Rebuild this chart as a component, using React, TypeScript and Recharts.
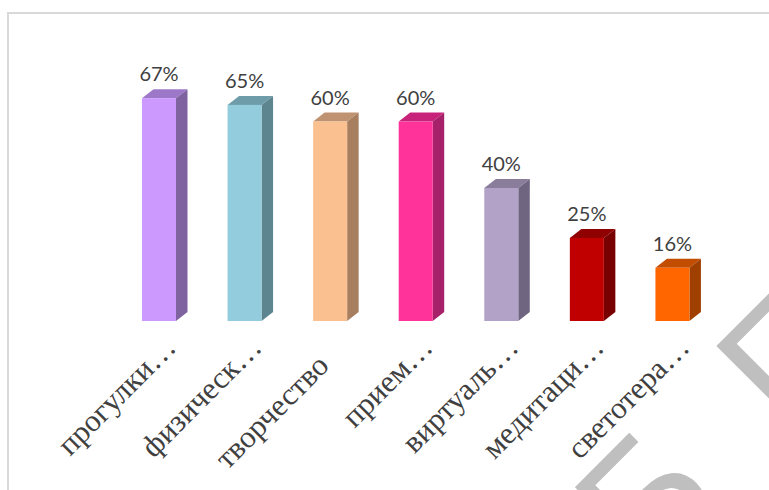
import { BarChart, Bar, XAxis, YAxis, LabelList } from "recharts";

// labels as shown in the picture (Excel truncated the long ones)
const categories = [
	"прогулки…",
	"физическ…",
	"творчество",
	"прием…",
	"виртуаль…",
	"медитаци…",
	"светотера…",
];
const values = [67, 65, 60, 60, 40, 25, 16];

// front / top / side faces of each 3D column
const palette = [
	{ front: "#CC99FF", top: "#9E78C8", side: "#7F62A0" },
	{ front: "#93CDDD", top: "#6E9CA8", side: "#5D8590" },
	{ front: "#FAC090", top: "#BF9271", side: "#A77F5F" },
	{ front: "#FF3399", top: "#C8237A", side: "#A6216A" },
	{ front: "#B3A2C7", top: "#8A7D9B", side: "#706580" },
	{ front: "#C00000", top: "#8F0000", side: "#780000" },
	{ front: "#FF6600", top: "#C24D00", side: "#A04000" },
];

const data = categories.map((name, i) => ({ name, value: values[i] }));

const DEPTH_X = 11.5;
const DEPTH_Y = 9;

function Column3D(props: any) {
	const { x, y, width, height, index } = props;
	const c = palette[index % palette.length];
	const r = x + width;
	const b = y + height;
	return (
		<g>
			<polygon
				points={`${x},${y} ${x + DEPTH_X},${y - DEPTH_Y} ${r + DEPTH_X},${y - DEPTH_Y} ${r},${y}`}
				fill={c.top}
			/>
			<polygon
				points={`${r},${y} ${r + DEPTH_X},${y - DEPTH_Y} ${r + DEPTH_X},${b - DEPTH_Y} ${r},${b}`}
				fill={c.side}
			/>
			<rect x={x} y={y} width={width} height={height} fill={c.front} />
		</g>
	);
}

function PercentLabel(props: any) {
	const { x, y, width, value } = props;
	return (
		<text
			x={x + width / 2}
			y={y - 17}
			textAnchor="middle"
			fill="#404040"
			fontSize={20}
			fontFamily="Lato, 'Open Sans', sans-serif"
		>
			{`${value}%`}
		</text>
	);
}

function CategoryTick(props: any) {
	const { x, y, payload } = props;
	const label: string = payload.value;
	// truncated labels run a bit further along the baseline
	const back = label.endsWith("…") ? 0 : 26;
	const ax = x + 19 - back * 0.707;
	const ay = y + 28 + back * 0.707;
	return (
		<g transform={`translate(${ax},${ay}) rotate(-45)`}>
			<text
				x={0}
				y={0}
				textAnchor="end"
				fill="#404040"
				fontSize={31}
				fontFamily="'Liberation Serif', 'Times New Roman', serif"
			>
				{label}
			</text>
		</g>
	);
}

export default function App() {
	return (
		<div
			style={{
				position: "absolute",
				left: 0,
				top: 0,
				width: 769,
				height: 490,
				overflow: "hidden",
				background: "#ffffff",
			}}
		>
			<div
				style={{
					position: "absolute",
					left: 7,
					top: 12,
					width: 800,
					height: 520,
					borderLeft: "2px solid #d9d9d9",
					borderTop: "2px solid #d9d9d9",
				}}
			/>
			{/* watermark, behind the chart */}
			<svg
				width={769}
				height={490}
				style={{ position: "absolute", left: 0, top: 0, pointerEvents: "none" }}
			>
				<g transform="rotate(-45)" fill="#bfbfbf" fontSize={170} fontFamily="'Liberation Sans', Arial, sans-serif">
					<text x={48} y={868}>Б</text>
					<text x={248} y={868}>Г</text>
				</g>
			</svg>
			<BarChart
				width={769}
				height={490}
				data={data}
				margin={{ top: 55, right: 54, left: 116, bottom: 0 }}
				style={{ position: "absolute", left: 0, top: 0 }}
			>
				<XAxis
					dataKey="name"
					height={169}
					axisLine={false}
					tickLine={false}
					tickSize={0}
					tickMargin={0}
					interval={0}
					tick={<CategoryTick />}
				/>
				<YAxis hide domain={[0, 80]} />
				<Bar
					dataKey="value"
					barSize={34}
					shape={<Column3D />}
					isAnimationActive={false}
				>
					<LabelList dataKey="value" content={<PercentLabel />} />
				</Bar>
			</BarChart>
		</div>
	);
}
